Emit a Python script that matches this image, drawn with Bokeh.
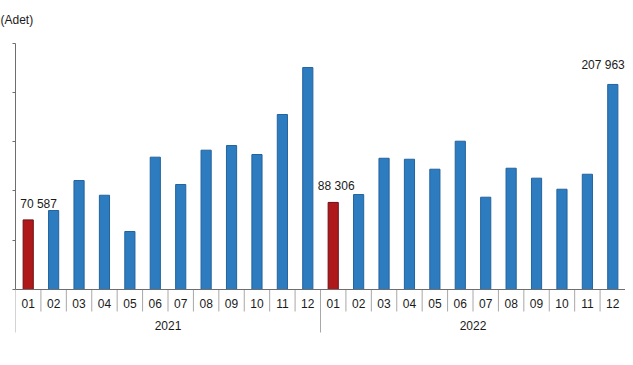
from bokeh.plotting import figure
from bokeh.models import FactorRange, Range1d, ColumnDataSource, Span, FixedTicker
from bokeh.core.properties import value
from bokeh.embed import file_html
from bokeh.resources import INLINE

# ---- data ----
years = ["2021"] * 12 + ["2022"] * 12
months = ["01", "02", "03", "04", "05", "06", "07", "08", "09", "10", "11", "12",
          "01", "02", "03", "04", "05", "06", "07", "08", "09", "10", "11", "12"]
counts = [70587, 80100, 110500, 95600, 58800, 134200, 106500, 141300, 146000, 136900, 177500, 225100,
          88306, 96300, 133100, 132100, 122000, 150400, 93600, 123000, 112900, 101700, 116900, 207963]
year_names = ["2021", "2022"]
y_ticks = [0, 50000, 100000, 150000, 200000, 250000]
unit_label = "(Adet)"
labelled = [("2021", "01"), ("2022", "01"), ("2022", "12")]

# ---- styling constants ----
BLUE, BLUE_EDGE = "#2E7CC0", "#22639E"
RED, RED_EDGE = "#B0191C", "#6E1012"
FONT = "Liberation Sans"
PX = 50000 / 49.3          # data units per pixel
BASE_Y = 289               # baseline position in canvas px
TOP = 30                   # top border (holds the unit title)
W, H = 625, 349

factors = list(zip(years, months))
colors = [RED if m == "01" else BLUE for m in months]
edges = [RED_EDGE if m == "01" else BLUE_EDGE for m in months]
src = ColumnDataSource(dict(x=factors, y=counts, c=colors, e=edges))

x_range = FactorRange(*factors, group_padding=0, factor_padding=0, range_padding=0)
y_top = (BASE_Y - TOP) * PX
y_bot = -(H - BASE_Y) * PX
p = figure(width=W, height=H, x_range=x_range, y_range=Range1d(y_bot, y_top),
           x_axis_location=None, output_backend="svg", toolbar_location=None,
           title=unit_label,
           min_border_left=15, min_border_right=0, min_border_top=TOP, min_border_bottom=0)
p.outline_line_color = None
p.grid.visible = False
p.background_fill_color = "white"
p.title.align = "left"
p.title.offset = -15
p.title.standoff = 7
p.title.text_font = FONT
p.title.text_font_size = "12px"
p.title.text_font_style = "normal"
p.title.text_color = "#1A1A1A"

# y axis: ticks only (its labels lie outside the visible area in the reference)
ya = p.yaxis[0]
ya.bounds = (y_ticks[0], y_ticks[-1])
ya.ticker = FixedTicker(ticks=y_ticks)
ya.major_label_overrides = {t: "" for t in y_ticks}
ya.major_label_standoff = 0
ya.major_tick_out = 3
ya.major_tick_in = 0
ya.minor_tick_out = 0
ya.minor_tick_in = 0
ya.axis_line_color = "#6E6E6E"
ya.major_tick_line_color = "#6E6E6E"

p.vbar(x="x", top="y", width=0.4, source=src, fill_color="c", line_color="e", line_width=1)

# baseline
p.add_layout(Span(location=0, dimension="width", line_color="#6E6E6E", line_width=1))

# category separators
sep_x = [(y, m, -0.5) for y, m in factors]
sep_len = [(43 if m == "01" else 22) * PX for m in months]
p.segment(x0=sep_x, y0=[0] * len(sep_x), x1=sep_x, y1=[-l for l in sep_len],
          line_color="#A8A8A8", line_width=1)

# month labels
p.text(x=factors, y=[0] * len(factors), text=months, text_align="center", text_baseline="middle",
       y_offset=14, text_font=value(FONT), text_font_size="12px", text_color="#1A1A1A")
# year labels
p.text(x=year_names, y=[0, 0], text=year_names, text_align="center", text_baseline="middle",
       y_offset=36, text_font=value(FONT), text_font_size="12px", text_color="#1A1A1A")

# value labels
lab_vals = [counts[factors.index(f)] for f in labelled]
lab_txt = [f"{v:,}".replace(",", " ") for v in lab_vals]
p.text(x=[labelled[0]], y=[lab_vals[0]], text=[lab_txt[0]], text_align="left", text_baseline="bottom",
       x_offset=-8, y_offset=-9, text_font=value(FONT), text_font_size="12px", text_color="#1A1A1A")
p.text(x=[labelled[1]], y=[lab_vals[1]], text=[lab_txt[1]], text_align="center", text_baseline="bottom",
       x_offset=3, y_offset=-9, text_font=value(FONT), text_font_size="12px", text_color="#1A1A1A")
p.text(x=[labelled[2]], y=[lab_vals[2]], text=[lab_txt[2]], text_align="right", text_baseline="bottom",
       x_offset=12, y_offset=-12, text_font=value(FONT), text_font_size="12px", text_color="#1A1A1A")

open("out.html", "w").write(file_html(p, INLINE))
